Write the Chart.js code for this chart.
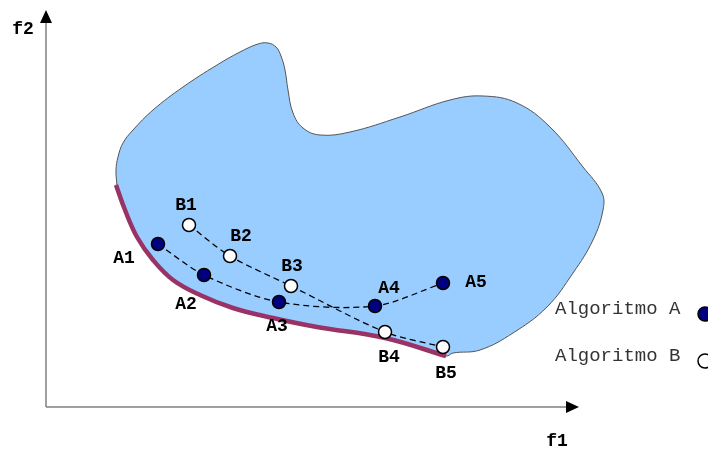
<!DOCTYPE html>
<html>
<head>
<meta charset="utf-8">
<script src="https://cdn.jsdelivr.net/npm/chart.js@4.4.0/dist/chart.umd.min.js"></script>
<style>html,body{margin:0;padding:0;background:#fff;overflow:hidden}</style>
</head>
<body>
<canvas id="chart" width="708" height="449"></canvas>
<script>
// diagram units: f1 grows to the right, f2 grows downwards (as drawn in the picture)
const blobF1 = [117,116,118,123,133,153,183,217,240,258,268,276,281,285,288,293,303,320,350,400,450,483,517,550,583,602,603,593,573,547,513,480,453];
const blobF2 = [186,170,157,143,130,110,87,65,52,44,43,47,56,70,90,113,128,135,132,117,100,96,103,127,167,193,210,240,273,307,333,350,353];

const frontF1 = [116,125,137,153,173,200,233,273,317,385,446];
const frontF2 = [185,210,237,260,280,295,308,318,327,338,356];

const algoA_F1 = [158,204,279,375,443];
const algoA_F2 = [244,275,302,306,283];
const algoB_F1 = [189,230,291,385,443];
const algoB_F2 = [225,256,286,332,347];
const pointNamesA = ['A1','A2','A3','A4','A5'];
const pointNamesB = ['B1','B2','B3','B4','B5'];
// label anchor for each point name
const labelA = [[124,258],[186,304],[277,326],[389,288],[476,282]];
const labelB = [[186,205],[241,236],[292,266],[389,357],[446,373]];

const legendNames = ['Algoritmo A','Algoritmo B'];

const pts = (xs, ys) => xs.map((x, i) => ({x: x, y: ys[i]}));

const blobPts = pts(blobF1, blobF2)
  .concat(pts(frontF1, frontF2).reverse());
blobPts.push({x: blobF1[0], y: blobF2[0]});

const navy = '#000080';

// axes with arrows + all text labels
const diagramPlugin = {
  id: 'diagram',
  beforeDatasetsDraw(chart) {
    const {ctx, scales: {x, y}} = chart;
    const ox = x.getPixelForValue(46), oy = y.getPixelForValue(407);
    const topY = y.getPixelForValue(10), rightX = x.getPixelForValue(579);
    ctx.save();
    ctx.strokeStyle = '#808080';
    ctx.lineWidth = 1.5;
    ctx.beginPath();
    ctx.moveTo(ox, oy); ctx.lineTo(ox, topY + 12);
    ctx.moveTo(ox, oy); ctx.lineTo(rightX - 12, oy);
    ctx.stroke();
    ctx.fillStyle = '#000';
    ctx.beginPath();
    ctx.moveTo(ox, topY); ctx.lineTo(ox - 6, topY + 13); ctx.lineTo(ox + 6, topY + 13); ctx.closePath();
    ctx.moveTo(rightX, oy); ctx.lineTo(rightX - 13, oy - 6); ctx.lineTo(rightX - 13, oy + 6); ctx.closePath();
    ctx.fill();
    ctx.restore();
  },
  afterDatasetsDraw(chart) {
    const {ctx, scales: {x, y}} = chart;
    ctx.save();
    ctx.textAlign = 'center';
    ctx.textBaseline = 'middle';
    ctx.fillStyle = '#000';
    ctx.font = 'bold 18px "Liberation Mono", monospace';
    pointNamesA.forEach((n, i) => ctx.fillText(n, x.getPixelForValue(labelA[i][0]), y.getPixelForValue(labelA[i][1])));
    pointNamesB.forEach((n, i) => ctx.fillText(n, x.getPixelForValue(labelB[i][0]), y.getPixelForValue(labelB[i][1])));
    ctx.fillText('f2', x.getPixelForValue(23), y.getPixelForValue(29));
    ctx.fillText('f1', x.getPixelForValue(557), y.getPixelForValue(441));
    ctx.textAlign = 'left';
    ctx.fillStyle = '#333';
    ctx.font = '19px "Liberation Mono", monospace';
    ctx.fillText(legendNames[0], x.getPixelForValue(555), y.getPixelForValue(309));
    ctx.fillText(legendNames[1], x.getPixelForValue(555), y.getPixelForValue(356));
    ctx.restore();
  }
};

new Chart(document.getElementById('chart'), {
  type: 'scatter',
  data: {
    datasets: [
      {
        label: 'A', data: pts(algoA_F1, algoA_F2), showLine: true, order: 1,
        borderColor: '#000', borderWidth: 1.3, borderDash: [6, 4], tension: 0.3,
        pointRadius: 6.5, pointBackgroundColor: navy, pointBorderColor: '#000', pointBorderWidth: 1.5
      },
      {
        label: 'B', data: pts(algoB_F1, algoB_F2), showLine: true, order: 1,
        borderColor: '#000', borderWidth: 1.3, borderDash: [6, 4], tension: 0.3,
        pointRadius: 6.5, pointBackgroundColor: '#fff', pointBorderColor: '#000', pointBorderWidth: 1.5
      },
      {
        label: 'legend', data: [{x: 705, y: 314}, {x: 705, y: 361}], order: 1, clip: false,
        pointRadius: 7, pointBackgroundColor: [navy, '#fff'], pointBorderColor: '#000', pointBorderWidth: 1.5
      },
      {
        label: 'front', data: pts(frontF1, frontF2), showLine: true, order: 5,
        borderColor: '#993366', borderWidth: 4.5, tension: 0.4, pointRadius: 0
      },
      {
        label: 'blob', data: blobPts, showLine: true, order: 10, fill: 'shape',
        backgroundColor: '#99ccff', borderColor: '#555', borderWidth: 1, tension: 0.4, pointRadius: 0
      }
    ]
  },
  options: {
    responsive: false,
    animation: false,
    layout: {padding: 0, autoPadding: false},
    plugins: {legend: {display: false}, tooltip: {enabled: false}},
    scales: {
      x: {type: 'linear', min: 0, max: 708, display: false},
      y: {type: 'linear', min: 0, max: 449, reverse: true, display: false}
    }
  },
  plugins: [diagramPlugin]
});
</script>
</body>
</html>
